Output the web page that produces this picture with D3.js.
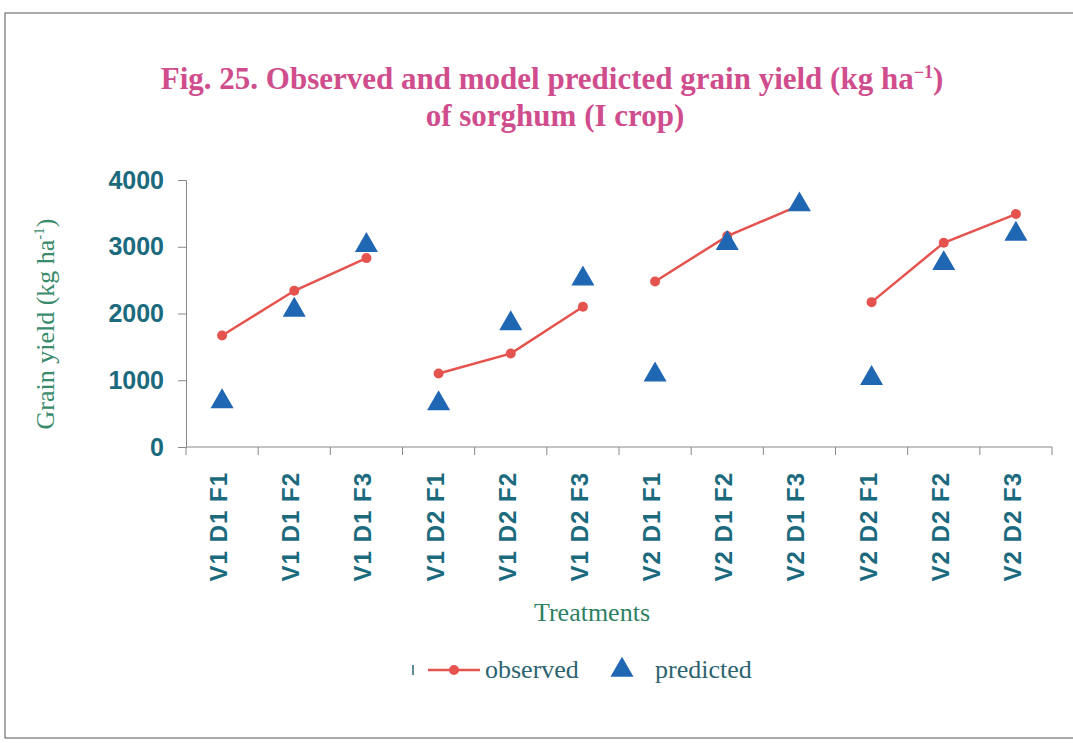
<!DOCTYPE html>
<html>
<head>
<meta charset="utf-8">
<title>Observed and model predicted grain yield</title>
<script src="https://cdnjs.cloudflare.com/ajax/libs/d3/7.8.5/d3.min.js"></script>
<style>
  body { margin: 0; background: #fff; }
  svg { display: block; }
</style>
</head>
<body>
<div id="chart"></div>
<script>
// data
var treatments = ["V1 D1 F1", "V1 D1 F2", "V1 D1 F3", "V1 D2 F1", "V1 D2 F2", "V1 D2 F3",
                  "V2 D1 F1", "V2 D1 F2", "V2 D1 F3", "V2 D2 F1", "V2 D2 F2", "V2 D2 F3"];
var observed  = [1670, 2340, 2830, 1100, 1400, 2100, 2480, 3160, 3620, 2170, 3060, 3490];
var predicted = [680, 2050, 3020, 650, 1850, 2520, 1080, 3050, 3630, 1030, 2750, 3190];
var yTicks = [0, 1000, 2000, 3000, 4000];
// observed line breaks between groups of three
var groups = [[0, 1, 2], [3, 4, 5], [6, 7, 8], [9, 10, 11]];

var W = 1073, H = 743;
var serif = "'Liberation Serif', 'Times New Roman', serif";
var sans = "'Liberation Sans', Arial, sans-serif";
var svg = d3.select("#chart").append("svg").attr("width", W).attr("height", H);

// frame of the scanned figure
svg.append("rect")
  .attr("x", 5).attr("y", 13).attr("width", 1080).attr("height", 725)
  .attr("fill", "none").attr("stroke", "#555").attr("stroke-width", 1);

var x = d3.scaleBand().domain(treatments).range([186, 1052]);
var y = d3.scaleLinear().domain([0, 4000]).range([447, 180]);

// title
var title = svg.append("text")
  .attr("text-anchor", "middle")
  .style("font-family", serif)
  .style("font-weight", "bold").style("font-size", "31px")
  .attr("fill", "#d04d8d");
var t1 = title.append("tspan").attr("x", 552).attr("y", 89);
t1.append("tspan").text("Fig. 25. Observed and model predicted grain yield (kg ha");
t1.append("tspan").attr("dy", -11).style("font-size", "18px").text("\u22121");
t1.append("tspan").attr("dy", 11).text(")");
title.append("tspan").attr("x", 555).attr("y", 126).text("of sorghum (I crop)");

// y axis
var yAxis = svg.append("g").attr("transform", "translate(186,0)")
  .call(d3.axisLeft(y).tickValues(yTicks).tickSize(8).tickPadding(14).tickFormat(d3.format("d")));
yAxis.select(".domain").attr("stroke", "#888");
yAxis.selectAll(".tick line").attr("stroke", "#888");
yAxis.selectAll("text")
  .style("font-family", sans)
  .style("font-weight", "bold").style("font-size", "25px")
  .attr("fill", "#1b6a7e");

// x axis: ticks at category boundaries
var xAxis = svg.append("g").attr("transform", "translate(0,447)");
xAxis.append("line").attr("x1", 186).attr("x2", x.range()[1]).attr("y1", 0).attr("y2", 0)
  .attr("stroke", "#888");
xAxis.selectAll(".bt").data(treatments.concat(["end"])).enter().append("line")
  .attr("x1", function (d, i) { return 186 + i * x.step(); })
  .attr("x2", function (d, i) { return 186 + i * x.step(); })
  .attr("y1", 0).attr("y2", 8).attr("stroke", "#888");
xAxis.selectAll(".lab").data(treatments).enter().append("text")
  .attr("transform", function (d) { return "translate(" + (x(d) + x.bandwidth() / 2 + 5) + ",25) rotate(-90)"; })
  .attr("text-anchor", "end")
  .style("font-family", sans)
  .style("font-weight", "bold").style("font-size", "24px")
  .style("letter-spacing", "1px")
  .attr("fill", "#1b6a7e")
  .text(function (d) { return d; });

// axis titles
var yt = svg.append("text")
  .attr("transform", "translate(54,324) rotate(-90)")
  .attr("text-anchor", "middle")
  .style("font-family", serif)
  .style("font-size", "26px").attr("fill", "#3a8a6c");
yt.append("tspan").text("Grain yield (kg ha");
yt.append("tspan").attr("dy", -10).style("font-size", "15px").text("-1");
yt.append("tspan").attr("dy", 10).text(")");

svg.append("text").attr("x", 592).attr("y", 621).attr("text-anchor", "middle")
  .style("font-family", serif)
  .style("font-size", "26px").attr("fill", "#2f7f64").text("Treatments");

var cx = function (i) { return x(treatments[i]) + x.bandwidth() / 2; };
var lineColor = "#e5534f", triColor = "#1f66b3";

// observed lines and dots
var line = d3.line().x(function (i) { return cx(i); }).y(function (i) { return y(observed[i]); });
svg.selectAll(".obs").data(groups).enter().append("path")
  .attr("d", line).attr("fill", "none").attr("stroke", lineColor).attr("stroke-width", 2.5);
svg.selectAll(".dot").data(observed).enter().append("circle")
  .attr("cx", function (d, i) { return cx(i); }).attr("cy", function (d) { return y(d); })
  .attr("r", 5).attr("fill", lineColor);

// predicted triangles
var tri = d3.symbol().type(d3.symbolTriangle).size(230);
svg.selectAll(".pred").data(predicted).enter().append("path")
  .attr("d", tri)
  .attr("transform", function (d, i) { return "translate(" + cx(i) + "," + y(d) + ")"; })
  .attr("fill", triColor);

// legend
var lg = svg.append("g").attr("transform", "translate(0,670)");
lg.append("line").attr("x1", 413).attr("x2", 413).attr("y1", -5).attr("y2", 5)
  .attr("stroke", "#2b6470").attr("stroke-width", 1.5);
lg.append("line").attr("x1", 428).attr("x2", 480).attr("y1", 0).attr("y2", 0)
  .attr("stroke", lineColor).attr("stroke-width", 2.5);
lg.append("circle").attr("cx", 454).attr("cy", 0).attr("r", 5).attr("fill", lineColor);
lg.append("text").attr("x", 485).attr("y", 8)
  .style("font-family", serif)
  .style("font-size", "26px").attr("fill", "#2b6470").text("observed");
lg.append("path").attr("d", tri).attr("transform", "translate(622,0)").attr("fill", triColor);
lg.append("text").attr("x", 655).attr("y", 8)
  .style("font-family", serif)
  .style("font-size", "26px").attr("fill", "#2b6470").text("predicted");
</script>
</body>
</html>
